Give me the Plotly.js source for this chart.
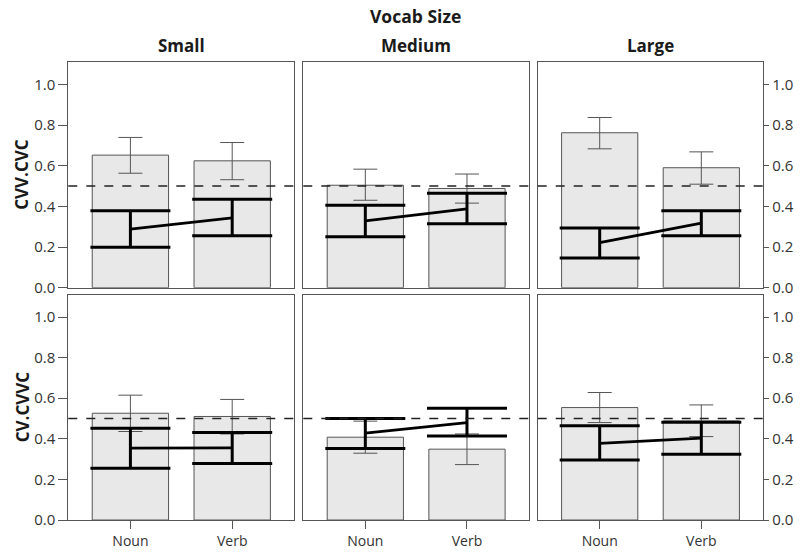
<!DOCTYPE html>
<html>
<head>
<meta charset="utf-8">
<script src="https://cdn.plot.ly/plotly-3.0.1.min.js"></script>
<style>html,body{margin:0;padding:0;background:#fff;}#chart{width:802px;height:556px;}</style>
</head>
<body>
<div id="chart"></div>
<script>
// ---- data ----
const categories = ['Noun', 'Verb'];
const vocabSizes = ['Small', 'Medium', 'Large'];
const rowLabels = ['CVV.CVC', 'CV.CVVC'];
const referenceLevel = 0.5;

// Bars (light grey) : mean with thin error bars, per vocab size [Noun, Verb]
const barMeanCVV = [[0.652, 0.624], [0.504, 0.488], [0.762, 0.590]];
const barHiCVV   = [[0.739, 0.714], [0.583, 0.559], [0.837, 0.668]];
const barLoCVV   = [[0.563, 0.531], [0.430, 0.416], [0.683, 0.509]];
const barMeanCV  = [[0.526, 0.510], [0.408, 0.349], [0.554, 0.488]];
const barHiCV    = [[0.615, 0.594], [0.487, 0.424], [0.628, 0.567]];
const barLoCV    = [[0.436, 0.424], [0.329, 0.273], [0.480, 0.411]];

// Thick black line : mean with thick error bars
const lineMeanCVV = [[0.288, 0.343], [0.329, 0.388], [0.222, 0.317]];
const lineHiCVV   = [[0.378, 0.435], [0.406, 0.465], [0.294, 0.379]];
const lineLoCVV   = [[0.199, 0.255], [0.251, 0.314], [0.146, 0.255]];
const lineMeanCV  = [[0.354, 0.355], [0.428, 0.480], [0.378, 0.403]];
const lineHiCV    = [[0.452, 0.431], [0.500, 0.551], [0.464, 0.482]];
const lineLoCV    = [[0.255, 0.278], [0.352, 0.414], [0.295, 0.324]];

const rowsData = [
  {barMean: barMeanCVV, barHi: barHiCVV, barLo: barLoCVV, lineMean: lineMeanCVV, lineHi: lineHiCVV, lineLo: lineLoCVV},
  {barMean: barMeanCV,  barHi: barHiCV,  barLo: barLoCV,  lineMean: lineMeanCV,  lineHi: lineHiCV,  lineLo: lineLoCV}
];

// ---- layout geometry ----
const W = 802, H = 556;
const xDomPx = [[68.3, 294.3], [303.3, 529], [537.7, 763.3]];
const yDomPx = [[62, 287.7], [294.7, 520]];
const FONT = '"Open Sans", Lato, sans-serif';
const TXT = '#1a1a1a';
const TICK = '#333';

const traces = [];
const layout = {
  width: W, height: H,
  margin: {l: 0, r: 0, t: 0, b: 0},
  paper_bgcolor: '#fff', plot_bgcolor: '#fff',
  showlegend: false,
  barmode: 'overlay',
  font: {family: FONT, color: TXT, size: 14},
  shapes: [], annotations: []
};

const diff = (a, b) => a.map((v, i) => v - b[i]);

for (let r = 0; r < 2; r++) {
  for (let c = 0; c < 3; c++) {
    const idx = r * 3 + c + 1;
    const xa = idx === 1 ? 'x' : 'x' + idx;
    const ya = idx === 1 ? 'y' : 'y' + idx;
    const d = rowsData[r];
    const bm = d.barMean[c], bh = d.barHi[c], bl = d.barLo[c];
    const lm = d.lineMean[c], lh = d.lineHi[c], ll = d.lineLo[c];

    traces.push({
      type: 'bar', x: categories, y: bm, xaxis: xa, yaxis: ya,
      width: 0.75,
      marker: {color: '#e8e8e8', line: {color: '#555', width: 1}},
      error_y: {type: 'data', symmetric: false, array: diff(bh, bm), arrayminus: diff(bm, bl),
                color: '#555', thickness: 1, width: 12},
      hoverinfo: 'skip'
    });
    traces.push({
      type: 'scatter', mode: 'lines', x: categories, y: lm, xaxis: xa, yaxis: ya,
      line: {color: '#000', width: 2.8},
      error_y: {type: 'data', symmetric: false, array: diff(lh, lm), arrayminus: diff(lm, ll),
                color: '#000', thickness: 3, width: 40},
      hoverinfo: 'skip'
    });

    const xk = 'xaxis' + (idx === 1 ? '' : idx);
    const yk = 'yaxis' + (idx === 1 ? '' : idx);
    layout[xk] = {
      domain: [xDomPx[c][0] / W, xDomPx[c][1] / W],
      anchor: ya, type: 'category', range: [-0.61, 1.61],
      showline: true, linecolor: '#555', linewidth: 1, mirror: true,
      showgrid: false, zeroline: false,
      ticks: r === 1 ? 'outside' : '', ticklen: 8, tickcolor: '#555',
      showticklabels: r === 1,
      tickfont: {family: FONT, size: 14, color: TICK}
    };
    layout[yk] = {
      domain: [(H - yDomPx[r][1]) / H, (H - yDomPx[r][0]) / H],
      anchor: xa, range: [0, 1.11],
      showline: true, linecolor: '#555', linewidth: 1, mirror: true,
      showgrid: false, zeroline: false,
      tickvals: [0, 0.2, 0.4, 0.6, 0.8, 1.0],
      ticktext: ['0.0', '0.2', '0.4', '0.6', '0.8', '1.0'],
      ticks: c === 1 ? '' : 'outside', ticklen: c === 2 ? 5 : 9, tickcolor: '#555',
      showticklabels: c !== 1,
      side: c === 2 ? 'right' : 'left',
      tickfont: {family: FONT, size: 15, color: TICK}
    };

    layout.shapes.push({
      type: 'line', xref: xa + ' domain', yref: ya,
      x0: 0, x1: 1, y0: referenceLevel, y1: referenceLevel,
      line: {color: '#222', width: 1.5, dash: 'dash'}, layer: 'above'
    });
  }
}

// Titles
layout.annotations.push({
  text: '<b>Vocab Size</b>', xref: 'paper', yref: 'paper',
  x: 415.5 / W, y: (H - 16) / H, showarrow: false,
  font: {family: FONT, size: 17.5, color: TXT}, xanchor: 'center', yanchor: 'middle'
});
for (let c = 0; c < 3; c++) {
  layout.annotations.push({
    text: '<b>' + vocabSizes[c] + '</b>', xref: 'paper', yref: 'paper',
    x: ((xDomPx[c][0] + xDomPx[c][1]) / 2) / W, y: (H - 45) / H, showarrow: false,
    font: {family: FONT, size: 17, color: TXT}, xanchor: 'center', yanchor: 'middle'
  });
}
for (let r = 0; r < 2; r++) {
  layout.annotations.push({
    text: '<b>' + rowLabels[r] + '</b>', xref: 'paper', yref: 'paper',
    x: 22 / W, y: (H - (yDomPx[r][0] + yDomPx[r][1]) / 2) / H, showarrow: false,
    textangle: -90, font: {family: FONT, size: 17, color: TXT},
    xanchor: 'center', yanchor: 'middle'
  });
}

Plotly.newPlot('chart', traces, layout, {displayModeBar: false, staticPlot: true});
</script>
</body>
</html>
